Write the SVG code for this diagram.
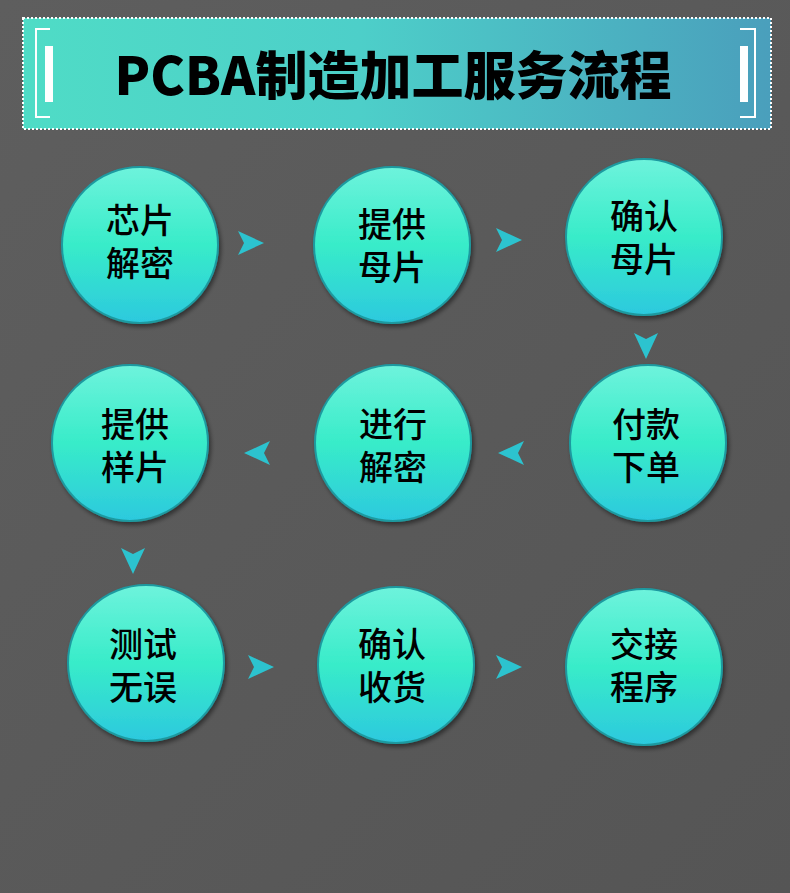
<svg xmlns="http://www.w3.org/2000/svg" width="790" height="893" viewBox="0 0 790 893">
<defs>
<linearGradient id="bg" x1="0" y1="0" x2="1" y2="1"><stop offset="0" stop-color="#5e5e5e"/><stop offset="1" stop-color="#555"/></linearGradient>
<linearGradient id="ban" x1="0" y1="0" x2="1" y2="0"><stop offset="0" stop-color="#4fdcc6"/><stop offset="0.45" stop-color="#4dcfc9"/><stop offset="1" stop-color="#4a9fbc"/></linearGradient>
<linearGradient id="cg" x1="0" y1="0" x2="0" y2="1"><stop offset="0" stop-color="#6ef3dc"/><stop offset="0.5" stop-color="#38ecc9"/><stop offset="1" stop-color="#2cc9de"/></linearGradient>
<filter id="sh" x="-20%" y="-20%" width="140%" height="140%"><feDropShadow dx="2" dy="3" stdDeviation="2" flood-color="#000" flood-opacity="0.45"/></filter>
<path id="ar" d="M-12,-12 L14,0 L-12,12 L-6,0 Z" fill="#2cc3cf"/>
</defs>
<style>
.c{fill:url(#cg);stroke:#1f9aa0;stroke-width:2;filter:url(#sh)}
.t{font-family:"Noto Sans CJK SC",sans-serif;font-size:34px;font-weight:500;fill:#000;text-anchor:middle}
</style>
<rect width="790" height="893" fill="url(#bg)"/>
<g id="banner">
<rect x="23" y="18" width="748" height="111" fill="url(#ban)"/>
<rect x="23" y="18" width="748" height="111" fill="none" stroke="#fff" stroke-width="2" stroke-dasharray="2 2"/>
<path d="M50,29 H36 V117 H50 M740,29 H755 V117 H740" fill="none" stroke="#fff" stroke-width="2"/>
<rect x="45" y="46" width="8" height="56" fill="#fff"/>
<rect x="740" y="46" width="8" height="56" fill="#fff"/>
<text x="393" y="95" font-family="'Noto Sans CJK SC',sans-serif" font-size="52" font-weight="900" text-anchor="middle" fill="#000">PCBA制造加工服务流程</text>
</g>
<g id="connectors">
<use href="#ar" transform="translate(250,243)"/>
<use href="#ar" transform="translate(508,240)"/>
<use href="#ar" transform="translate(646,345) rotate(90)"/>
<use href="#ar" transform="translate(512,453) rotate(180)"/>
<use href="#ar" transform="translate(258,453) rotate(180)"/>
<use href="#ar" transform="translate(133,560) rotate(90)"/>
<use href="#ar" transform="translate(260,667)"/>
<use href="#ar" transform="translate(508,667)"/>
</g>
<g id="n1"><circle class="c" cx="140" cy="245" r="78"/><text class="t" x="140" y="233">芯片</text><text class="t" x="140" y="276">解密</text></g>
<g id="n2"><circle class="c" cx="392" cy="245" r="78"/><text class="t" x="392" y="237" font-weight="700">提供</text><text class="t" x="392" y="280" font-weight="700">母片</text></g>
<g id="n3"><circle class="c" cx="644" cy="237" r="78"/><text class="t" x="644" y="229">确认</text><text class="t" x="644" y="272">母片</text></g>
<g id="n4"><circle class="c" cx="648" cy="443" r="78"/><text class="t" x="646" y="437">付款</text><text class="t" x="646" y="480">下单</text></g>
<g id="n5"><circle class="c" cx="393" cy="443" r="78"/><text class="t" x="393" y="437">进行</text><text class="t" x="393" y="480">解密</text></g>
<g id="n6"><circle class="c" cx="130" cy="443" r="78"/><text class="t" x="135" y="437">提供</text><text class="t" x="135" y="480">样片</text></g>
<g id="n7"><circle class="c" cx="146" cy="663" r="78"/><text class="t" x="143" y="657">测试</text><text class="t" x="143" y="700">无误</text></g>
<g id="n8"><circle class="c" cx="396" cy="665" r="78"/><text class="t" x="392" y="657">确认</text><text class="t" x="392" y="700">收货</text></g>
<g id="n9"><circle class="c" cx="644" cy="667" r="78"/><text class="t" x="644" y="657">交接</text><text class="t" x="644" y="700">程序</text></g>
</svg>
